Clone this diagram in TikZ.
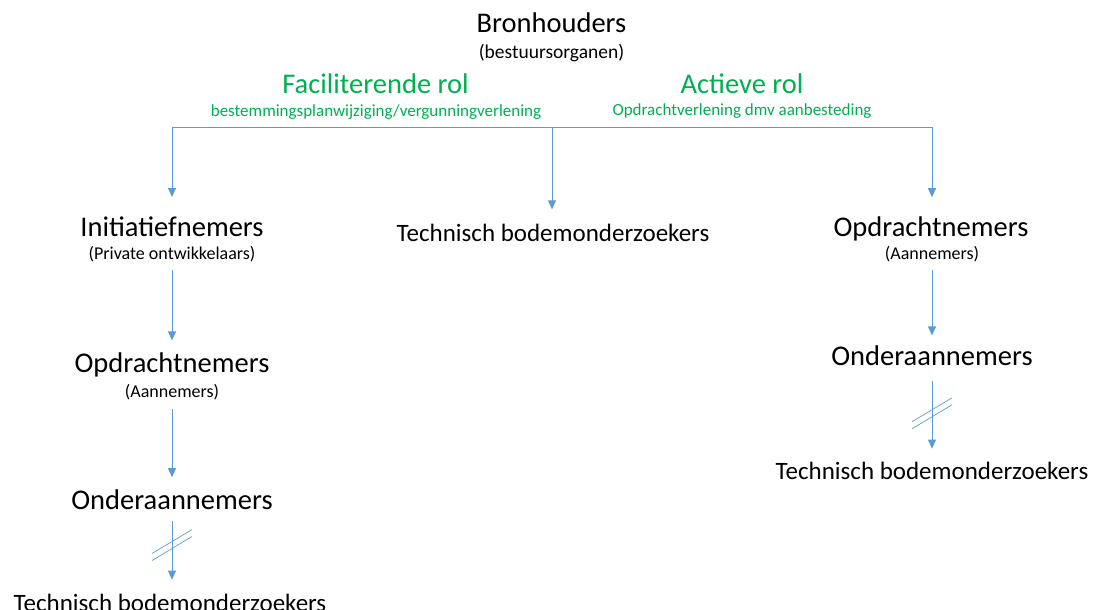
\documentclass[tikz,border=0pt]{standalone}
\usepackage{fontspec}
\setmainfont{Carlito}
\usetikzlibrary{arrows.meta}
\definecolor{rolegreen}{HTML}{00B050}
\definecolor{linkblue}{HTML}{5B9BD5}
\tikzset{breakmark/.pic={
        code={
            \draw[linkblue,line width=0.7pt] (-20,8) -- (20,-16);
            \draw[linkblue,line width=0.7pt] (-20,15) -- (20,-9);
    }
  }
}
\tikzset{actor/.style={font=\fontsize{28.5}{34}\selectfont},
    actorsub/.style={font=\fontsize{18}{22}\selectfont},
    tech/.style={font=\fontsize{25}{30}\selectfont},
    role/.style={font=\fontsize{28.5}{34}\selectfont,text=rolegreen},
    rolesub/.style={font=\fontsize{17}{20}\selectfont,text=rolegreen},
    link/.style={linkblue,line width=1pt},
    arr/.style={link,-{Triangle[width=8pt,length=9pt]}}
}

\begin{document}
\begin{tikzpicture}[x=1pt,y=-1pt,every node/.style={inner sep=0,outer sep=0,anchor=base}]
\useasboundingbox (0,0) rectangle (1096,610);
% Top
\node[actor] (bron) at (551.5,33) {Bronhouders};
\node[actorsub,font=\fontsize{19.5}{23}\selectfont] (bronsub) at (551.5,59) {(bestuursorganen)};
% Roles
\node[role] (facil) at (375.5,94) {Faciliterende rol};
\node[rolesub] (facilsub) at (376,116.5) {bestemmingsplanwijziging/vergunningverlening};
\node[role] (actief) at (742,94) {Actieve rol};
\node[rolesub] (actiefsub) at (742,115) {Opdrachtverlening dmv aanbesteding};
% Left column
\node[actor] (init) at (172,236.7) {Initiatiefnemers};
\node[actorsub] (initsub) at (172,259.5) {(Private ontwikkelaars)};
\node[actor] (opdL) at (172,372.7) {Opdrachtnemers};
\node[actorsub] (opdLsub) at (172,397.5) {(Aannemers)};
\node[actor] (ondL) at (172,509) {Onderaannemers};
\node[tech] (techL) at (170,611) {Technisch bodemonderzoekers};
% Middle
\node[tech] (techM) at (553,241.7) {Technisch bodemonderzoekers};
% Right column
\node[actor] (opdR) at (931,236) {Opdrachtnemers};
\node[actorsub] (opdRsub) at (932,259) {(Aannemers)};
\node[actor] (ondR) at (932,365.7) {Onderaannemers};
\node[tech] (techR) at (932,479) {Technisch bodemonderzoekers};
% Bus
\coordinate (busL) at (172,127);
\coordinate (busM) at (552,127);
\coordinate (busR) at (932,127);
\draw[link] (busL) -- (busR);
\draw[arr,shorten >=20pt] (busL) -- (init.north);
\draw[arr,shorten >=15pt] (busM) -- (busM |- techM.north);
\draw[arr,shorten >=19pt] (busR) -- (busR |- opdR.north);
% Left chain
\draw[arr,shorten <=8.5pt,shorten >=12.5pt] (initsub.south) -- (opdL.north);
\draw[arr,shorten <=9pt,shorten >=12pt] (opdLsub.south) -- (ondL.north);
\draw[arr,shorten <=11.5pt,shorten >=14pt] (ondL.south) -- coordinate[pos=0.43] (brkL) (ondL.south |- techL.north);
\pic at (brkL) {breakmark};
% Right chain
\draw[arr,shorten <=9pt,shorten >=10.5pt] (opdRsub.south) -- (ondR.north);
\draw[arr,shorten <=15pt,shorten >=13pt] (ondR.south) -- coordinate[pos=0.5] (brkR) (techR.north);
\pic at (brkR) {breakmark};
\end{tikzpicture}
\end{document}
